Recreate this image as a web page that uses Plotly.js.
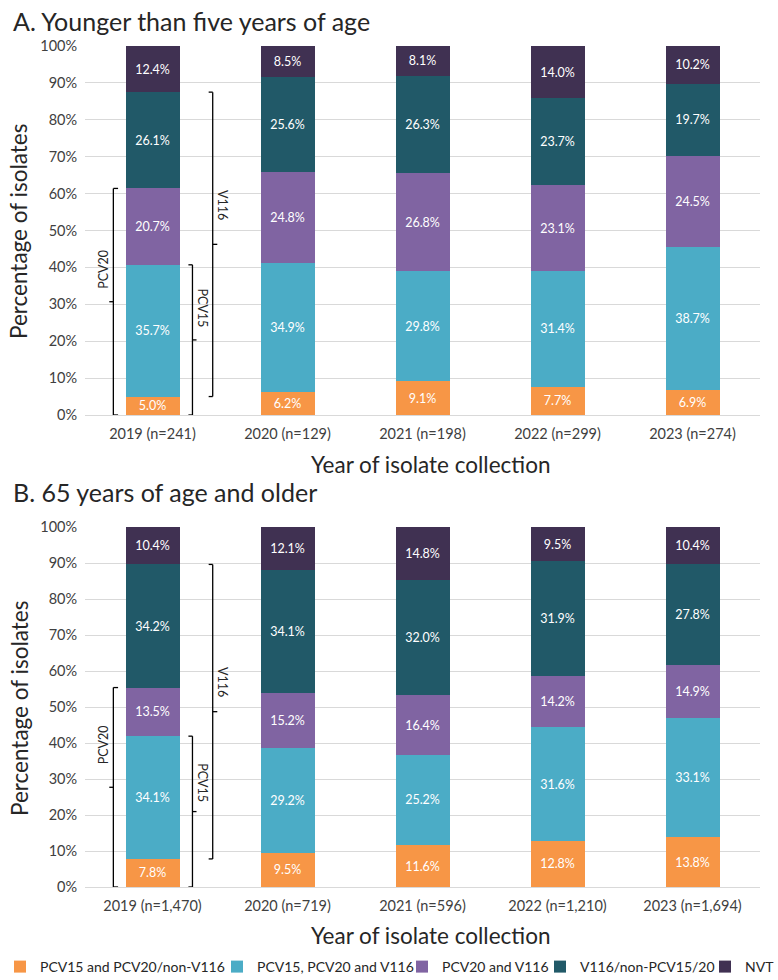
<!DOCTYPE html>
<html>
<head>
<meta charset="utf-8">
<script src="https://cdn.plot.ly/plotly-3.0.1.min.js"></script>
<style>
  html, body { margin: 0; padding: 0; background: #ffffff; }
  #chart { width: 778px; height: 980px; }
</style>
</head>
<body>
<div id="chart"></div>
<script>
// Serotype group shares of isolates by collection year, two age groups.
const seriesNames = [
  'PCV15 and PCV20/non-V116',
  'PCV15, PCV20 and V116',
  'PCV20 and V116',
  'V116/non-PCV15/20',
  'NVT'
];
const seriesColors = ['#F79646', '#4BACC6', '#8064A2', '#215968', '#403152'];

// Panel A: younger than five years
const yearsA = ['2019 (n=241)', '2020 (n=129)', '2021 (n=198)', '2022 (n=299)', '2023 (n=274)'];
const a_pcv15_pcv20_nonV116 = [5.0, 6.2, 9.1, 7.7, 6.9];
const a_pcv15_pcv20_v116    = [35.7, 34.9, 29.8, 31.4, 38.7];
const a_pcv20_v116          = [20.7, 24.8, 26.8, 23.1, 24.5];
const a_v116_nonPcv         = [26.1, 25.6, 26.3, 23.7, 19.7];
const a_nvt                 = [12.4, 8.5, 8.1, 14.0, 10.2];

// Panel B: 65 years and older
const yearsB = ['2019 (n=1,470)', '2020 (n=719)', '2021 (n=596)', '2022 (n=1,210)', '2023 (n=1,694)'];
const b_pcv15_pcv20_nonV116 = [7.8, 9.5, 11.6, 12.8, 13.8];
const b_pcv15_pcv20_v116    = [34.1, 29.2, 25.2, 31.6, 33.1];
const b_pcv20_v116          = [13.5, 15.2, 16.4, 14.2, 14.9];
const b_v116_nonPcv         = [34.2, 34.1, 32.0, 31.9, 27.8];
const b_nvt                 = [10.4, 12.1, 14.8, 9.5, 10.4];

const yTickVals = [0, 10, 20, 30, 40, 50, 60, 70, 80, 90, 100];
const yTickText = ['0%', '10%', '20%', '30%', '40%', '50%', '60%', '70%', '80%', '90%', '100%'];

const FONT = 'Lato, "Open Sans", sans-serif';
const TEXT = '#262626';

const seriesA = [a_pcv15_pcv20_nonV116, a_pcv15_pcv20_v116, a_pcv20_v116, a_v116_nonPcv, a_nvt];
const seriesB = [b_pcv15_pcv20_nonV116, b_pcv15_pcv20_v116, b_pcv20_v116, b_v116_nonPcv, b_nvt];
const legendIds = ['legend', 'legend2', 'legend3', 'legend4', 'legend5'];

function barTrace(x, y, i, xa, ya, showLegend) {
  return {
    type: 'bar',
    x: x, y: y,
    name: seriesNames[i],
    xaxis: xa, yaxis: ya,
    marker: { color: seriesColors[i], line: { width: 0 } },
    texttemplate: '%{y:.1f}%',
    textposition: 'inside',
    insidetextanchor: 'middle',
    constraintext: 'none',
    textfont: { family: FONT, size: 12.5, color: '#ffffff' },
    hoverinfo: 'skip',
    showlegend: showLegend,
    legend: legendIds[i]
  };
}

const traces = [];
seriesA.forEach((s, i) => traces.push(barTrace(yearsA, s, i, 'x', 'y', true)));
seriesB.forEach((s, i) => traces.push(barTrace(yearsB, s, i, 'x2', 'y2', false)));

// Brackets beside the first bar of each panel, spanning vaccine coverage groups
function cumulative(series, col, upto) {
  let t = 0;
  for (let k = 0; k < upto; k++) t += series[k][col];
  return t;
}
function bracket(xa, ya, xLine, xHook, xTick, y0, y1) {
  const base = { type: 'line', xref: xa, yref: ya, line: { color: '#000000', width: 1.3 } };
  const mid = (y0 + y1) / 2;
  return [
    Object.assign({}, base, { x0: xLine, x1: xLine, y0: y0, y1: y1 }),
    Object.assign({}, base, { x0: xLine, x1: xHook, y0: y0, y1: y0 }),
    Object.assign({}, base, { x0: xLine, x1: xHook, y0: y1, y1: y1 }),
    Object.assign({}, base, { x0: xLine, x1: xTick, y0: mid, y1: mid })
  ];
}
function bracketLabel(xa, ya, x, y, text, angle) {
  return {
    xref: xa, yref: ya, x: x, y: y, text: text, showarrow: false,
    textangle: angle, font: { family: FONT, size: 12.5, color: TEXT },
    xanchor: 'center', yanchor: 'middle'
  };
}
function panelBrackets(series, xa, ya) {
  const pcv20Top = cumulative(series, 0, 3);
  const pcv15Top = cumulative(series, 0, 2);
  const v116Bottom = cumulative(series, 0, 1);
  const v116Top = cumulative(series, 0, 4);
  return [].concat(
    bracket(xa, ya, -0.29, -0.255, -0.32, 0, pcv20Top),
    bracket(xa, ya, 0.296, 0.266, 0.326, 0, pcv15Top),
    bracket(xa, ya, 0.446, 0.416, 0.48, v116Bottom, v116Top)
  );
}
function panelBracketLabels(xa, ya) {
  return [
    bracketLabel(xa, ya, -0.36, 39.6, 'PCV20', -90),
    bracketLabel(xa, ya, 0.37, 29, 'PCV15', 90),
    bracketLabel(xa, ya, 0.52, 57, 'V116', 90)
  ];
}

function px2x(px) { return px / 778; }
function px2y(py) { return 1 - py / 980; }

function textNote(text, xPx, yPx, size, anchor, angle) {
  return {
    xref: 'paper', yref: 'paper',
    x: (xPx - 85) / 675, y: px2y(yPx),
    text: text, showarrow: false, textangle: angle || 0,
    xanchor: anchor, yanchor: 'middle',
    font: { family: FONT, size: size, color: TEXT }
  };
}

const annotations = [
  textNote('A. Younger than five years of age', 11, 21, 25, 'left'),
  textNote('B. 65 years of age and older', 11, 492, 25, 'left'),
  textNote('Percentage of isolates', 19, 232, 22.5, 'center', -90),
  textNote('Percentage of isolates', 19, 709, 22.5, 'center', -90),
  textNote('Year of isolate collection', 430, 464, 22.5, 'center'),
  textNote('Year of isolate collection', 430, 935, 22.5, 'center')
].concat(panelBracketLabels('x', 'y'), panelBracketLabels('x2', 'y2'));

const shapes = [].concat(panelBrackets(seriesA, 'x', 'y'), panelBrackets(seriesB, 'x2', 'y2'));

function yAxis(domain, anchor) {
  return {
    domain: domain, anchor: anchor,
    range: [0, 100], fixedrange: true,
    tickvals: yTickVals, ticktext: yTickText,
    tickfont: { family: FONT, size: 14.5, color: '#404040' },
    ticks: 'outside', ticklen: 4, tickcolor: 'rgba(0,0,0,0)',
    showgrid: true, gridcolor: '#d9d9d9', gridwidth: 1,
    zeroline: false, showline: false
  };
}
function xAxis(anchor) {
  return {
    domain: [0, 1], anchor: anchor, type: 'category', fixedrange: true,
    tickfont: { family: FONT, size: 14.5, color: '#404040' },
    ticks: 'outside', ticklen: 6, tickcolor: 'rgba(0,0,0,0)',
    showline: true, linecolor: '#d9d9d9', linewidth: 1,
    showgrid: false, zeroline: false
  };
}

// One single-entry legend per series so the row can be spaced freely
const legendLeft = [0, 217, 402, 540, 705];
const legendLayouts = {};
legendIds.forEach((id, i) => {
  legendLayouts[id] = {
    xref: 'container', yref: 'container',
    x: px2x(legendLeft[i]), y: px2y(967),
    xanchor: 'left', yanchor: 'middle',
    orientation: 'h', bgcolor: 'rgba(0,0,0,0)', borderwidth: 0,
    itemwidth: 30,
    font: { family: FONT, size: 14, color: TEXT }
  };
});

const layout = Object.assign({
  width: 778, height: 980,
  margin: { l: 85, r: 18, t: 0, b: 0, autoexpand: false },
  paper_bgcolor: '#ffffff', plot_bgcolor: '#ffffff',
  font: { family: FONT, color: TEXT },
  barmode: 'stack', bargap: 0.6,
  xaxis: xAxis('y'),
  yaxis: yAxis([px2y(415), px2y(46)], 'x'),
  xaxis2: xAxis('y2'),
  yaxis2: yAxis([px2y(887), px2y(527)], 'x2'),
  uniformtext: { mode: 'show', minsize: 12.5 },
  shapes: shapes,
  annotations: annotations
}, legendLayouts);

Plotly.newPlot('chart', traces, layout, { displayModeBar: false, staticPlot: true });
</script>
</body>
</html>
